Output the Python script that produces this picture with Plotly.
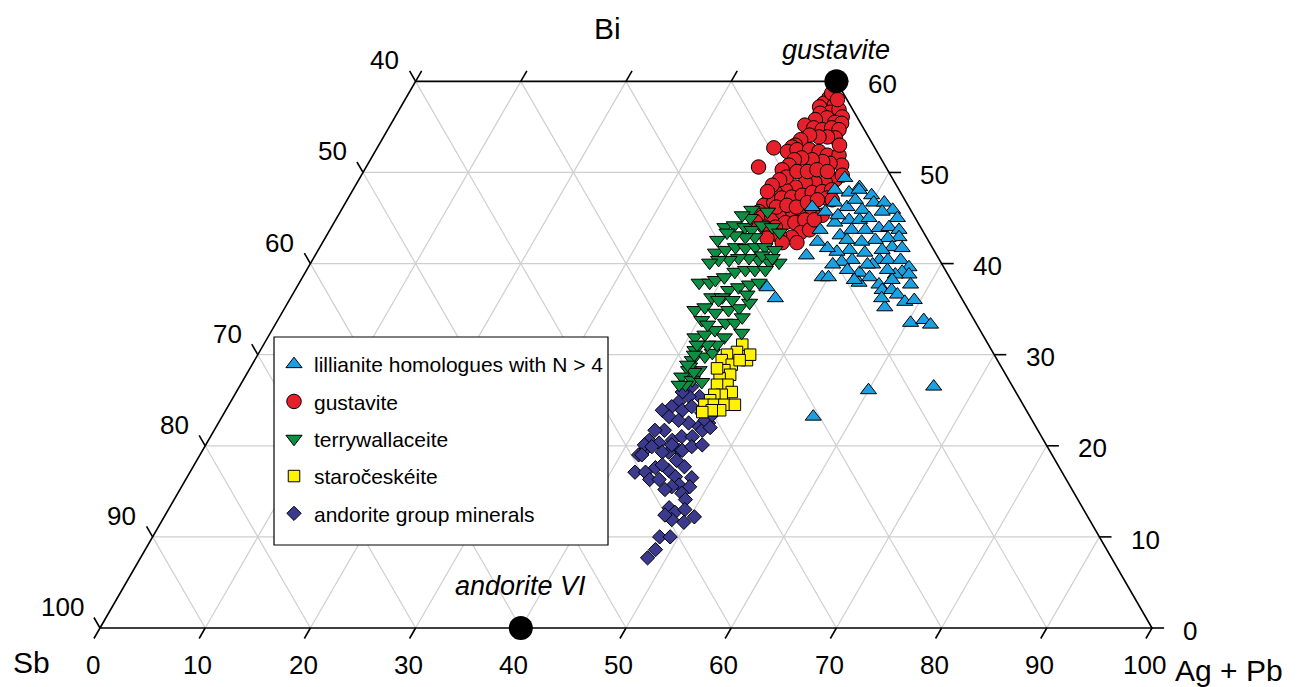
import math
import plotly.graph_objects as go

FONT = "Arial, 'Liberation Sans', Helvetica, sans-serif"

# ---------------- data: compositions (at.%) ; Sb = 100 - (Ag+Pb) - Bi ----------------
series_names = ["lillianite homologues with N > 4", "gustavite", "terrywallaceite",
                "staročeskéite", "andorite group minerals"]

lill_agpb = [46.1, 48.0, 45.8, 47.3, 48.1, 49.6, 44.6, 46.1, 46.5, 47.9, 49.5, 50.2, 51.2, 52.4, 51.5, 53.3,
             48.8, 49.8, 50.6, 46.6, 47.6, 49.6, 50.9, 52.1, 53.0, 54.1, 54.5, 53.5, 52.4, 51.2, 50.5, 49.4,
             48.3, 47.0, 46.7, 54.4, 55.4, 53.6, 52.1, 51.3, 50.4, 49.7, 53.9, 54.7, 55.9, 57.1, 56.7, 57.5,
             58.2, 49.4, 50.0, 52.7, 53.2, 53.9, 55.2, 55.8, 56.7, 57.5, 58.6, 59.4, 57.0, 56.2, 60.3, 61.4,
             62.3, 60.0, 66.0, 56.2, 44.7, 46.1, 48.3, 48.8, 53.5, 51.4, 56.2, 55.2, 47.5, 53.0, 52.6, 56.2,
             49.7]
lill_bi = [49.4, 48.4, 48.1, 47.8, 48.1, 47.5, 46.2, 45.7, 46.7, 46.2, 45.9, 46.7, 46.7, 45.9, 45.7, 45.0,
           44.8, 44.8, 45.0, 43.7, 44.5, 43.7, 43.7, 43.9, 44.0, 43.7, 42.9, 42.8, 42.6, 42.4, 41.5, 41.3,
           41.7, 42.4, 40.9, 41.8, 41.7, 41.5, 41.2, 40.4, 40.2, 39.9, 40.4, 40.4, 40.4, 39.6, 39.1, 38.8,
           37.7, 38.5, 38.5, 39.0, 37.9, 38.5, 37.7, 37.1, 37.1, 36.6, 35.8, 36.0, 35.2, 36.2, 33.5, 33.8,
           33.3, 26.1, 26.5, 23.2, 37.4, 36.2, 47.0, 43.1, 39.9, 39.3, 38.8, 39.3, 45.3, 39.9, 38.2, 38.2,
           42.6]

gust_agpb = [40.2, 40.0, 41.1, 39.8, 41.1, 41.8, 42.5, 40.2, 41.1, 42.1, 40.1, 42.8, 39.4, 40.4, 41.3, 42.1,
             42.9, 43.0, 42.2, 41.4, 40.4, 39.8, 39.6, 37.7, 37.3, 39.4, 39.2, 40.0, 41.2, 42.2, 43.2, 44.3,
             45.1, 43.9, 43.1, 42.0, 40.9, 40.3, 40.1, 39.7, 45.3, 44.5, 43.5, 42.6, 41.9, 41.1, 40.3, 40.1,
             39.9, 39.8, 40.7, 41.2, 42.1, 43.0, 43.8, 44.7, 45.5, 40.4, 41.3, 42.1, 43.0, 43.8, 44.6, 42.9,
             43.8, 44.6, 42.2, 41.2, 40.0, 44.9, 45.6, 45.5, 46.1, 40.2, 41.1, 43.8, 45.7, 40.5, 41.2, 42.2,
             43.0, 44.1, 40.0, 39.6, 39.5, 42.0, 44.3, 43.1, 42.0, 43.7, 45.1, 41.2, 42.1, 43.1, 43.9, 44.7,
             46.0, 45.5]
gust_bi = [58.2, 57.6, 57.4, 57.2, 56.6, 56.9, 56.1, 56.5, 56.0, 55.5, 55.8, 55.4, 55.2, 54.9, 54.7, 54.9,
           54.7, 53.8, 53.9, 53.9, 54.1, 53.6, 53.0, 52.7, 50.6, 52.8, 52.3, 52.5, 52.5, 52.3, 51.9, 51.9,
           50.8, 51.0, 51.2, 51.4, 51.6, 51.4, 50.8, 50.3, 49.2, 48.9, 48.9, 48.9, 48.4, 48.1, 47.8, 47.0,
           46.4, 45.7, 46.7, 47.2, 47.3, 47.5, 47.8, 47.9, 48.1, 45.1, 45.1, 45.6, 45.7, 45.9, 46.1, 44.5,
           44.5, 44.8, 44.0, 44.0, 44.6, 43.4, 43.7, 47.2, 47.0, 58.7, 58.0, 53.0, 49.7, 49.5, 50.1, 50.1,
           50.3, 50.1, 49.2, 48.6, 47.9, 43.5, 42.9, 43.0, 42.8, 42.3, 42.3, 46.2, 46.4, 46.2, 46.7, 47.0,
           45.3, 44.8]

terry_agpb = [39.0, 37.4, 38.2, 39.3, 40.1, 40.8, 41.9, 42.9, 40.8, 39.9, 38.8, 37.9, 37.9, 38.7, 39.5, 40.5,
              41.4, 42.3, 43.4, 44.5, 43.6, 42.4, 41.4, 40.4, 39.6, 38.6, 37.9, 38.0, 39.0, 39.4, 40.1, 40.8,
              41.7, 42.6, 43.6, 41.2, 42.0, 42.9, 43.7, 40.0, 41.0, 39.1, 39.9, 41.2, 42.3, 43.2, 43.9, 42.7,
              43.6, 44.0, 40.3, 40.6, 41.4, 42.1, 43.4, 41.3, 42.6, 41.6, 42.8, 41.8, 41.5, 42.7, 43.7, 44.8,
              41.5, 43.1, 41.7, 42.4, 42.3, 41.7, 40.6, 39.3, 38.4, 37.4, 40.8, 42.1, 43.2, 41.1, 43.1, 42.2,
              42.5, 43.6, 41.4, 41.2]
terry_bi = [45.9, 44.0, 44.2, 44.0, 43.7, 44.2, 44.0, 43.4, 42.9, 42.9, 43.1, 43.4, 41.2, 41.5, 41.8, 41.7,
            41.8, 41.8, 41.5, 40.1, 40.1, 40.4, 40.6, 40.6, 40.4, 40.4, 40.1, 37.9, 37.9, 38.2, 38.5, 39.1,
            39.3, 39.3, 39.3, 37.1, 37.4, 37.7, 37.9, 36.3, 36.3, 34.9, 35.2, 34.6, 34.9, 35.1, 35.7, 33.5,
            33.5, 34.1, 33.8, 31.9, 32.2, 32.7, 31.9, 30.5, 29.8, 29.4, 28.3, 28.3, 27.6, 27.2, 27.0, 32.4,
            30.0, 30.2, 28.7, 28.1, 26.7, 26.7, 45.7, 45.0, 45.3, 42.6, 36.0, 36.0, 36.6, 33.3, 31.1, 31.1,
            40.9, 40.6, 28.9, 31.1]

staro_agpb = [45.5, 46.8, 46.8, 45.4, 44.6, 44.4, 45.6, 45.2, 46.0, 45.2, 46.3, 45.3, 47.1, 46.3, 45.6, 45.5,
              45.2, 46.1, 47.1, 48.1, 47.0, 46.2, 45.4, 46.1, 44.4]
staro_bi = [31.1, 29.4, 30.0, 30.3, 30.0, 29.4, 28.9, 28.3, 27.8, 27.4, 26.7, 26.7, 25.9, 25.6, 25.6, 25.0,
            24.5, 24.5, 24.5, 24.5, 23.9, 23.9, 23.7, 29.4, 28.5]

andor_agpb = [43.0, 44.3, 43.3, 42.4, 42.6, 42.2, 41.5, 42.5, 43.4, 44.1, 45.4, 46.6, 45.9, 44.7, 43.6, 42.8,
              41.9, 41.9, 43.0, 44.1, 44.8, 45.8, 46.4, 45.3, 44.4, 42.0, 41.7, 41.7, 42.5, 43.8, 44.3, 45.6,
              46.3, 47.2, 42.0, 42.3, 43.3, 44.1, 44.0, 45.4, 46.4, 46.7, 48.0, 47.2, 48.3, 46.6, 47.9, 48.6,
              47.5, 48.3, 49.1, 50.4, 49.7, 48.4, 47.5, 48.2, 49.2, 48.5, 48.2, 46.1, 46.5, 47.0, 44.5, 45.0,
              45.6, 46.1]
andor_bi = [26.5, 25.4, 25.4, 25.9, 24.8, 24.3, 23.9, 23.2, 23.9, 24.3, 23.6, 22.5, 22.1, 22.5, 22.8, 21.7,
            21.7, 20.6, 20.3, 20.6, 21.0, 21.0, 21.7, 19.5, 19.3, 19.5, 19.0, 20.1, 19.9, 19.3, 20.1, 19.5,
            19.9, 20.1, 19.0, 17.1, 17.1, 16.3, 17.6, 17.3, 16.6, 17.7, 16.5, 15.7, 15.5, 15.5, 14.8, 14.1,
            13.2, 12.7, 13.0, 12.2, 11.6, 11.9, 12.4, 10.0, 10.0, 8.6, 7.7, 22.8, 23.4, 22.0, 17.9, 16.3,
            18.4, 15.2]

endmember_labels = ["gustavite", "andorite VI"]
endmember_agpb = [40, 40]
endmember_bi = [60, 0]

tick_values = [0, 10, 20, 30, 40, 50, 60, 70, 80, 90, 100]
BI_TOP = 60          # the diagram is truncated at Bi = 60

# ---------------- styles ----------------
colors = ["#1ba1e2", "#e5202a", "#0c8f43", "#fff200", "#3b3a8e"]
symbols = ["triangle-up", "circle", "triangle-down", "square", "diamond"]
sizes = [14, 14.5, 14, 11.5, 11]
GRID_COLOR = "#cfcfcf"

S = math.sqrt(3) / 2

# page geometry (the html body adds an 8 px margin)
OFF = 8
W, H = 1299 - OFF, 687 - OFF


def px(xp):
    return (xp - OFF) / W


def py(yp):
    return 1 - (yp - OFF) / H


def to_xy(agpb, bi):
    """Ternary (Ag+Pb, Bi) -> planar coordinates of an equilateral triangle of side 100."""
    return [a + b / 2 for a, b in zip(agpb, bi)], [b * S for b in bi]


fig = go.Figure()

# ---- grid ----
gx, gy = [], []


def add_seg(a0, b0, a1, b1, X, Y):
    xs, ys = to_xy([a0, a1], [b0, b1])
    X += xs + [None]
    Y += ys + [None]


for v in tick_values[1:-1]:
    if v < BI_TOP:
        add_seg(0, v, 100 - v, v, gx, gy)                 # constant Bi
    add_seg(v, 0, v, min(BI_TOP, 100 - v), gx, gy)        # constant Ag+Pb
    be = min(BI_TOP, 100 - v)
    add_seg(100 - v, 0, 100 - v - be, be, gx, gy)        # constant Sb

fig.add_trace(go.Scatter(x=gx, y=gy, mode="lines", line=dict(color=GRID_COLOR, width=1.2),
                         hoverinfo="skip", showlegend=False))

# ---- frame ----
fx, fy = to_xy([0, 100, 100 - BI_TOP, 0, 0], [0, 0, BI_TOP, BI_TOP, 0])
fig.add_trace(go.Scatter(x=fx, y=fy, mode="lines", line=dict(color="black", width=1.6),
                         hoverinfo="skip", showlegend=False))

# ---- ticks ----
L = 1.15
tx, ty = [], []
for v in tick_values:
    x0, y0 = v, 0.0                                   # bottom (Ag+Pb)
    tx += [x0, x0 - 0.5 * L, None]; ty += [y0, y0 - S * L, None]
    if v <= BI_TOP:
        x0, y0 = v / 2, v * S                         # left (Sb)
        tx += [x0, x0 - 0.5 * L, None]; ty += [y0, y0 + S * L, None]
        x0, y0 = 100 - v / 2, v * S                   # right (Bi)
        tx += [x0, x0 + L, None]; ty += [y0, y0, None]
    if v < 100 - BI_TOP:
        x0, y0 = v + BI_TOP / 2, BI_TOP * S           # top edge
        tx += [x0, x0 + 0.5 * L, None]; ty += [y0, y0 + S * L, None]
fig.add_trace(go.Scatter(x=tx, y=ty, mode="lines", line=dict(color="black", width=1.6),
                         hoverinfo="skip", showlegend=False))

# ---- data series (drawing order bottom -> top) ----
series = [
    (4, andor_agpb, andor_bi),
    (3, staro_agpb, staro_bi),
    (1, gust_agpb, gust_bi),
    (2, terry_agpb, terry_bi),
    (0, lill_agpb, lill_bi),
]
for idx, ag, bi in series:
    xs, ys = to_xy(ag, bi)
    fig.add_trace(go.Scatter(
        x=xs, y=ys, mode="markers", name=series_names[idx],
        legendgroup=f"g{idx}", legendrank=idx + 1,
        marker=dict(symbol=symbols[idx], size=sizes[idx], color=colors[idx],
                    line=dict(color="black", width=1)),
    ))

# ---- end members ----
ex, ey = to_xy(endmember_agpb, endmember_bi)
fig.add_trace(go.Scatter(x=ex, y=ey, mode="markers", showlegend=False,
                         marker=dict(size=24, color="black"), cliponaxis=False))

annotations = []
for name, x, y, ys in zip(endmember_labels, ex, ey, [31, 42]):
    annotations.append(dict(x=x, y=y, xref="x", yref="y", text=f"<i>{name}</i>", showarrow=False,
                            yshift=ys, font=dict(size=27, family=FONT, color="black")))

# ---- tick labels ----
TICK_FONT = dict(size=26, family=FONT, color="black")
for v in tick_values:
    annotations.append(dict(x=v - 0.7, y=-3.55, xref="x", yref="y", text=str(v), showarrow=False,
                            xanchor="center", yanchor="middle", font=TICK_FONT))
    if v <= BI_TOP:
        annotations.append(dict(x=v / 2 - 1.35, y=v * S + 2.0, xref="x", yref="y", text=str(100 - v),
                                showarrow=False, xanchor="right", yanchor="middle", font=TICK_FONT))
        annotations.append(dict(x=100 - v / 2 + 2.8, y=v * S - 0.25, xref="x", yref="y", text=str(v),
                                showarrow=False, xanchor="left", yanchor="middle", font=TICK_FONT))

# ---- axis titles ----
TITLE_FONT = dict(size=30, family=FONT, color="black")
annotations += [
    dict(x=px(607), y=py(28), xref="paper", yref="paper", text="Bi", showarrow=False,
         xanchor="center", yanchor="middle", font=TITLE_FONT),
    dict(x=px(32), y=py(662), xref="paper", yref="paper", text="Sb", showarrow=False,
         xanchor="center", yanchor="middle", font=TITLE_FONT),
    dict(x=px(1229), y=py(670), xref="paper", yref="paper", text="Ag + Pb", showarrow=False,
         xanchor="center", yanchor="middle", font=TITLE_FONT),
]

PXU = 10.52  # pixels per composition unit
x0 = -(100 - OFF) / PXU
y0 = -(687 - 628) / PXU

fig.update_layout(
    width=W, height=H,
    margin=dict(l=0, r=0, t=0, b=0),
    paper_bgcolor="white", plot_bgcolor="white",
    xaxis=dict(range=[x0, x0 + W / PXU], visible=False, fixedrange=True),
    yaxis=dict(range=[y0, y0 + H / PXU], visible=False, fixedrange=True),
    showlegend=True,
    legend=dict(x=px(274), y=py(344), xanchor="left", yanchor="top",
                bgcolor="rgba(0,0,0,0)", borderwidth=0, tracegroupgap=7, itemsizing="trace",
                font=dict(size=21, family=FONT, color="black")),
    shapes=[dict(type="rect", xref="paper", yref="paper",
                 x0=px(274), x1=px(608), y0=py(545), y1=py(337),
                 line=dict(color="black", width=1.2), fillcolor="white", layer="above")],
    annotations=annotations,
)

fig.write_html("out.html")
